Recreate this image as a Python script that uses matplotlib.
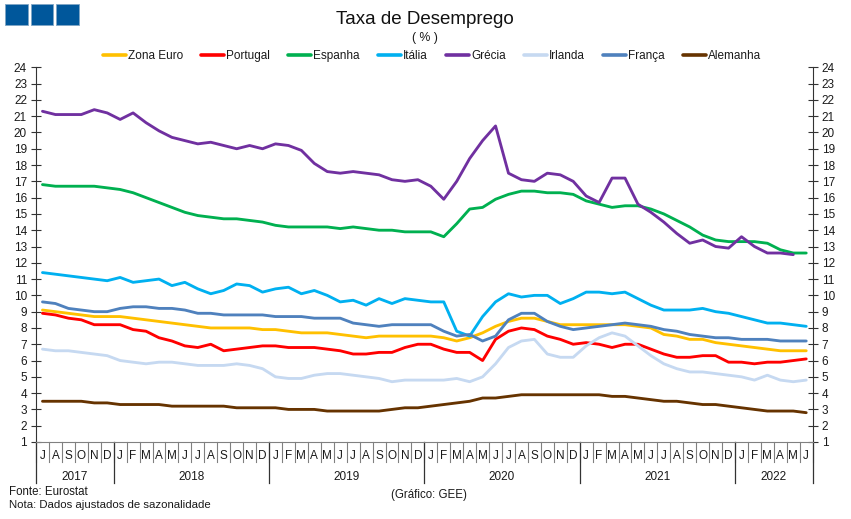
import matplotlib
matplotlib.use("Agg")
import matplotlib.pyplot as plt
from matplotlib.patches import Rectangle
from matplotlib.lines import Line2D
from matplotlib.transforms import blended_transform_factory

plt.rcParams['font.family'] = ['Liberation Sans', 'DejaVu Sans']

W, H = 851, 519
months = list("JASOND") + list("JFMAMJJASOND") * 4 + list("JFMAMJ")
years = [("2017", 6), ("2018", 12), ("2019", 12), ("2020", 12), ("2021", 12), ("2022", 6)]

zona_euro = [9.1,9.0,8.9,8.8,8.7,8.7,
             8.7,8.6,8.5,8.4,8.3,8.2,8.1,8.0,8.0,8.0,8.0,7.9,
             7.9,7.8,7.7,7.7,7.7,7.6,7.5,7.4,7.5,7.5,7.5,7.5,
             7.5,7.4,7.2,7.4,7.7,8.1,8.4,8.6,8.6,8.4,8.2,8.2,
             8.2,8.2,8.2,8.2,8.1,8.0,7.6,7.5,7.3,7.3,7.1,7.0,
             6.9,6.8,6.7,6.6,6.6,6.6]
portugal = [8.9,8.8,8.6,8.5,8.2,8.2,
            8.2,7.9,7.8,7.4,7.2,6.9,6.8,7.0,6.6,6.7,6.8,6.9,
            6.9,6.8,6.8,6.8,6.7,6.6,6.4,6.4,6.5,6.5,6.8,7.0,
            7.0,6.7,6.5,6.5,6.0,7.3,7.8,8.0,7.9,7.5,7.3,7.0,
            7.1,7.0,6.8,7.0,7.0,6.7,6.4,6.2,6.2,6.3,6.3,5.9,
            5.9,5.8,5.9,5.9,6.0,6.1]
espanha = [16.8,16.7,16.7,16.7,16.7,16.6,
           16.5,16.3,16.0,15.7,15.4,15.1,14.9,14.8,14.7,14.7,14.6,14.5,
           14.3,14.2,14.2,14.2,14.2,14.1,14.2,14.1,14.0,14.0,13.9,13.9,
           13.9,13.6,14.4,15.3,15.4,15.9,16.2,16.4,16.4,16.3,16.3,16.2,
           15.8,15.6,15.4,15.5,15.5,15.3,15.0,14.6,14.2,13.7,13.4,13.3,
           13.3,13.3,13.2,12.8,12.6,12.6]
italia = [11.4,11.3,11.2,11.1,11.0,10.9,
          11.1,10.8,10.9,11.0,10.6,10.8,10.4,10.1,10.3,10.7,10.6,10.2,
          10.4,10.5,10.1,10.3,10.0,9.6,9.7,9.4,9.8,9.5,9.8,9.7,
          9.6,9.6,7.8,7.5,8.7,9.6,10.1,9.9,10.0,10.0,9.5,9.8,
          10.2,10.2,10.1,10.2,9.8,9.4,9.1,9.1,9.1,9.2,9.0,8.9,
          8.7,8.5,8.3,8.3,8.2,8.1]
grecia = [21.3,21.1,21.1,21.1,21.4,21.2,
          20.8,21.2,20.6,20.1,19.7,19.5,19.3,19.4,19.2,19.0,19.2,19.0,
          19.3,19.2,18.9,18.1,17.6,17.5,17.6,17.5,17.4,17.1,17.0,17.1,
          16.7,15.9,17.0,18.4,19.5,20.4,17.5,17.1,17.0,17.5,17.4,17.0,
          16.1,15.7,17.2,17.2,15.6,15.1,14.5,13.8,13.2,13.4,13.0,12.9,
          13.6,13.0,12.6,12.6,12.5,None]
irlanda = [6.7,6.6,6.6,6.5,6.4,6.3,
           6.0,5.9,5.8,5.9,5.9,5.8,5.7,5.7,5.7,5.8,5.7,5.5,
           5.0,4.9,4.9,5.1,5.2,5.2,5.1,5.0,4.9,4.7,4.8,4.8,
           4.8,4.8,4.9,4.7,5.0,5.8,6.8,7.2,7.3,6.4,6.2,6.2,
           6.9,7.4,7.7,7.5,6.9,6.3,5.8,5.5,5.3,5.3,5.2,5.1,
           5.0,4.8,5.1,4.8,4.7,4.8]
franca = [9.6,9.5,9.2,9.1,9.0,9.0,
          9.2,9.3,9.3,9.2,9.2,9.1,8.9,8.9,8.8,8.8,8.8,8.8,
          8.7,8.7,8.7,8.6,8.6,8.6,8.3,8.2,8.1,8.2,8.2,8.2,
          8.2,7.8,7.5,7.6,7.2,7.5,8.5,8.9,8.9,8.4,8.1,7.9,
          8.0,8.1,8.2,8.3,8.2,8.1,7.9,7.8,7.6,7.5,7.4,7.4,
          7.3,7.3,7.3,7.2,7.2,7.2]
alemanha = [3.5,3.5,3.5,3.5,3.4,3.4,
            3.3,3.3,3.3,3.3,3.2,3.2,3.2,3.2,3.2,3.1,3.1,3.1,
            3.1,3.0,3.0,3.0,2.9,2.9,2.9,2.9,2.9,3.0,3.1,3.1,
            3.2,3.3,3.4,3.5,3.7,3.7,3.8,3.9,3.9,3.9,3.9,3.9,
            3.9,3.9,3.8,3.8,3.7,3.6,3.5,3.5,3.4,3.3,3.3,3.2,
            3.1,3.0,2.9,2.9,2.9,2.8]

names = ["Zona Euro", "Portugal", "Espanha", "Itália", "Grécia", "Irlanda", "França", "Alemanha"]
series = [zona_euro, portugal, espanha, italia, grecia, irlanda, franca, alemanha]
colors = ["#FFC000", "#FF0000", "#00B050", "#00B0F0", "#7030A0", "#C6D9F1", "#4F81BD", "#663300"]

fig = plt.figure(figsize=(W / 100, H / 100), dpi=100, facecolor="white")
L, R, T, B = 36, 812.7, 67.3, 442
ax = fig.add_axes([L / W, 1 - B / H, (R - L) / W, (B - T) / H])
n = len(months)
ax.set_xlim(0, n)
ax.set_ylim(1, 24)
ax.patch.set_alpha(0)

xs = [i + 0.5 for i in range(n)]
for name, vals, c in zip(names, series, colors):
    px, py = zip(*[(x, v) for x, v in zip(xs, vals) if v is not None])
    ax.plot(px, py, color=c, lw=2.05, solid_joinstyle="round", solid_capstyle="round", label=name)

# axes frame
ax.spines["top"].set_visible(False)
ax.spines["bottom"].set_color("#808080")
ax.spines["left"].set_color("#333333")
ax.spines["right"].set_color("#333333")
for s in ax.spines.values():
    s.set_linewidth(0.8)

yticks = list(range(1, 25))
ax.set_yticks(yticks)
ax.set_xticks([])
ax.tick_params(axis="y", which="both", direction="inout", length=6.5, width=0.8, color="#333333",
               left=True, right=True, labelleft=True, labelright=True, labelsize=8.5,
               pad=3.2, labelcolor="#1a1a1a")

# month / year axis
tr = blended_transform_factory(ax.transData, fig.transFigure)
def fy(p):
    return 1 - p / H

for i in range(n + 1):
    ax.add_line(Line2D([i, i], [fy(442), fy(462)], transform=tr, color="#808080", lw=0.8, clip_on=False))
for i, m in enumerate(months):
    ax.text(i + 0.5, fy(456), m, transform=tr, ha="center", va="center", fontsize=8.5, color="#1a1a1a")

pos = 0
ax.add_line(Line2D([0, 0], [fy(442), fy(483)], transform=tr, color="#333333", lw=0.9, clip_on=False))
for label, count in years:
    ax.text(pos + count / 2, fy(477.5), label, transform=tr, ha="center", va="center", fontsize=8.5, color="#1a1a1a")
    pos += count
    ax.add_line(Line2D([pos, pos], [fy(442), fy(483)], transform=tr, color="#333333", lw=0.9, clip_on=False))

# logo blocks
for x0, x1 in ((5, 28), (30.5, 53), (56, 78.5)):
    fig.add_artist(Rectangle((x0 / W, fy(24.5)), (x1 - x0) / W, 20 / H, transform=fig.transFigure,
                             facecolor="#00579B", edgecolor="#7FA6C6", lw=0.6))

# titles and notes
fig.text(425 / W, fy(19.5), "Taxa de Desemprego", ha="center", va="center", fontsize=13.5, color="#111111")
fig.text(425 / W, fy(37.5), "( % )", ha="center", va="center", fontsize=8.8, color="#1a1a1a")
fig.text(9 / W, fy(492), "Fonte: Eurostat", ha="left", va="center", fontsize=8.3, color="#1a1a1a")
fig.text(9 / W, fy(505), "Nota: Dados ajustados de sazonalidade", ha="left", va="center", fontsize=8.2, color="#1a1a1a")
fig.text(429 / W, fy(495), "(Gráfico: GEE)", ha="center", va="center", fontsize=8.3, color="#1a1a1a")

leg = fig.legend(*ax.get_legend_handles_labels(), loc="center", bbox_to_anchor=(432 / W, fy(56)), ncol=8,
                 frameon=False, fontsize=8.5, handlelength=1.95, handletextpad=0.17,
                 columnspacing=1.55, borderpad=0, labelspacing=0)
for t in leg.get_texts():
    t.set_color("#1a1a1a")
for h in leg.get_lines():
    h.set_linewidth(2.6)

fig.savefig("out.png", dpi=100, facecolor="white")
